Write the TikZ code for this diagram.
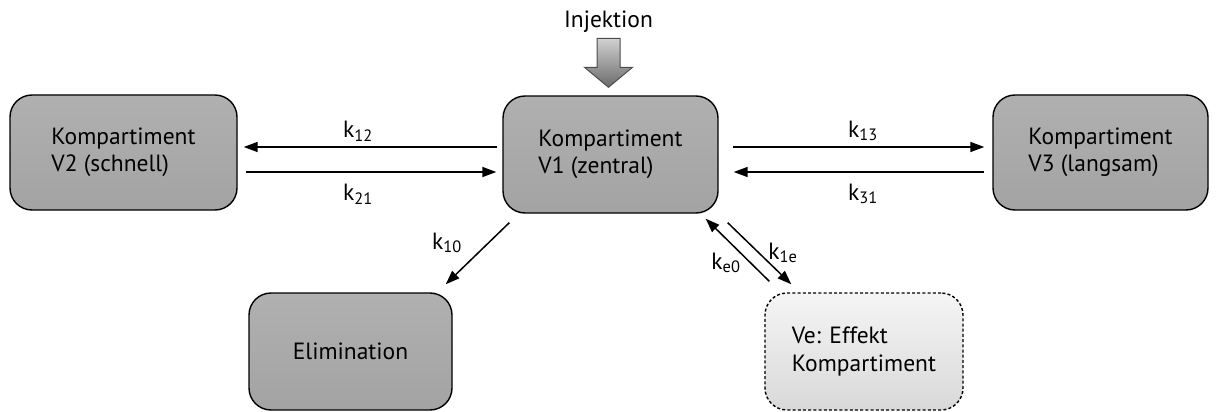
\documentclass[tikz,border=0pt]{standalone}
\usepackage{fontspec}
\setmainfont{PT Sans}
\usetikzlibrary{arrows.meta,calc,shapes.geometric}

\tikzset{
  comp/.style={draw=black, line width=1.4pt, rounded corners=22pt,
    top color=gray!62, bottom color=gray!72, shading angle=0,
    align=left, font=\fontsize{23.5}{27.5}\selectfont, inner sep=0pt},
  effect/.style={draw=black, line width=1.4pt, rounded corners=22pt,
    dash pattern=on 3pt off 2.2pt,
    top color=black!4, bottom color=black!15,
    align=left, font=\fontsize{23.5}{27.5}\selectfont, inner sep=0pt},
  arr/.style={line width=1.5pt, -{Triangle[length=14pt,width=10pt]}},
  rate/.style={font=\fontsize{23.5}{27}\selectfont, inner sep=0pt},
}

\begin{document}
\begin{tikzpicture}[x=1pt, y=-1pt]
  \useasboundingbox (0,0) rectangle (1216,412);

  % compartments
  \node[comp, minimum width=227pt, minimum height=115pt] (V2) at (123.5,152.5)
    {Kompartiment\\V2 (schnell)};
  \node[comp, minimum width=215pt, minimum height=117pt] (V1) at (610.5,154.5)
    {Kompartiment\\V1 (zentral)};
  \node[comp, minimum width=215pt, minimum height=115pt] (V3) at (1100.5,152.5)
    {Kompartiment\\V3 (langsam)};
  \node[comp, minimum width=203pt, minimum height=117pt] (El) at (350.5,351.5)
    {Elimination};
  \node[effect, minimum width=198pt, minimum height=117pt] (Ve) at (864,351.5)
    {Ve: Effekt\\Kompartiment};

  % injection
  \node[rate] (inj) at (608.5,22) {Injektion};
  \coordinate (tip) at ($(V1.north)+(-2,-8)$);
  \draw[draw=black!70, line width=1pt, top color=black!18, bottom color=black!58]
    ($(tip)+(-11.5,-49)$) -- ($(tip)+(11.5,-49)$) -- ($(tip)+(11.5,-20)$)
    -- ($(tip)+(24,-20)$) -- (tip) -- ($(tip)+(-24,-20)$)
    -- ($(tip)+(-11.5,-20)$) -- cycle;

  % exchange with V2
  \draw[arr, shorten <=5pt, shorten >=6pt] (V1.west |- 0,147) -- (V2.east |- 0,147);
  \draw[arr, shorten <=8pt, shorten >=6pt] (V2.east |- 0,172) -- (V1.west |- 0,172);
  \node[rate] at (358,131) {k\textsubscript{12}};
  \node[rate] at (358,194) {k\textsubscript{21}};

  % exchange with V3
  \draw[arr, shorten <=14pt, shorten >=8pt] (V1.east |- 0,147) -- (V3.west |- 0,147);
  \draw[arr, shorten <=8pt, shorten >=15pt] (V3.west |- 0,172) -- (V1.east |- 0,172);
  \node[rate] at (863,131) {k\textsubscript{13}};
  \node[rate] at (863,194) {k\textsubscript{31}};

  % elimination
  \draw[arr] ($(V1.south west)+(7,9)$) -- ($(El.north east)+(-7,-8)$);
  \node[rate] at (447,243) {k\textsubscript{10}};

  % effect compartment
  \draw[arr] ($(V1.south east)+(9,9)$) -- ($(Ve.north west)+(27,-8)$);
  \draw[arr] ($(Ve.north west)+(5,-11)$) -- ($(V1.south east)+(-13,5)$);
  \node[rate] at (783,253) {k\textsubscript{1e}};
  \node[rate] at (726,263) {k\textsubscript{e0}};
\end{tikzpicture}
\end{document}
